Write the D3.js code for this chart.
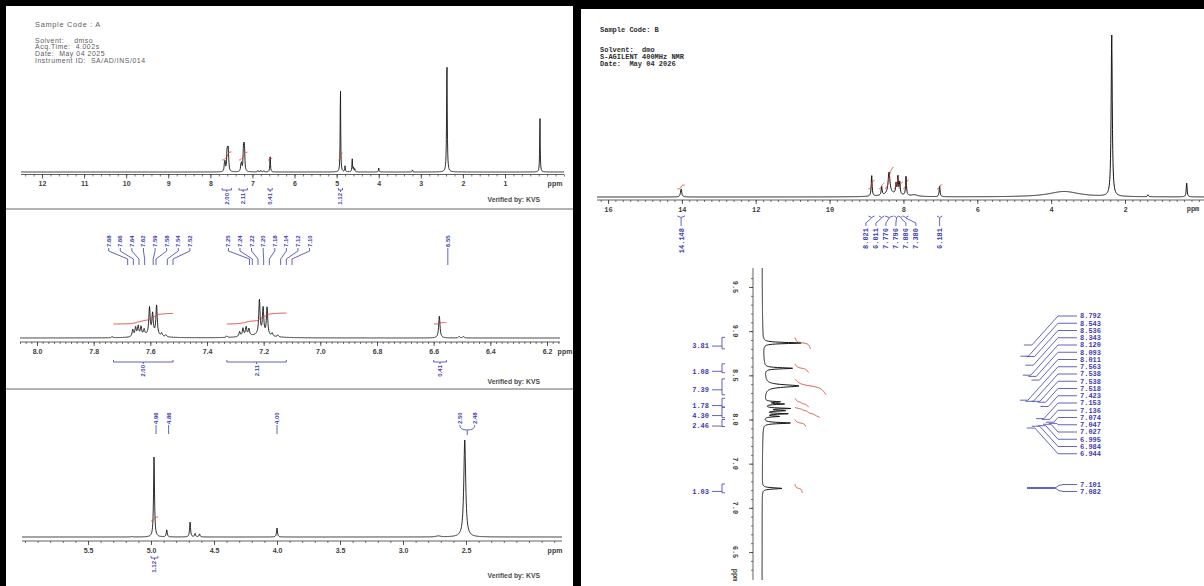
<!DOCTYPE html>
<html>
<head>
<meta charset="utf-8">
<title>NMR spectra A / B</title>
<script src="https://cdn.jsdelivr.net/npm/d3@7/dist/d3.min.js"></script>
<style>
  body { margin: 0; background: #000; }
  svg { display: block; }
  text { white-space: pre; }
</style>
</head>
<body>
<svg id="chart" width="1204" height="586"></svg>
<script>
// ---------------- data: sample A ----------------
const headerA = ["Solvent:    dmso", "Acq.Time:  4.002s", "Date:  May 04 2025", "Instrument ID:  SA/AD/INS/014"];
const aFullTicks = [12, 11, 10, 9, 8, 7, 6, 5, 4, 3, 2, 1];
const aZoom1Ticks = [8.0, 7.8, 7.6, 7.4, 7.2, 7.0, 6.8, 6.6, 6.4, 6.2];
const aZoom2Ticks = [5.5, 5.0, 4.5, 4.0, 3.5, 3.0, 2.5];

// peaks: [ppm, height, half width (optional)]
const aFullPeaks = [
  [7.665, 7], [7.65, 8], [7.605, 17], [7.59, 15], [7.575, 18], [7.56, 3],
  [7.275, 6], [7.258, 7], [7.215, 20], [7.200, 17], [7.188, 16],
  [6.87, 1.5], [6.80, 1.5], [6.73, 1.2],
  [6.58, 17, 0.008],
  [4.91, 86, 0.007], [4.80, 6, 0.008], [4.63, 13, 0.008], [4.60, 4, 0.008], [4.57, 3, 0.008],
  [4.00, 4, 0.008], [3.20, 2, 0.008],
  [2.38, 110, 0.009],
  [0.17, 56, 0.007]
];
const aZoom1Peaks = [
  [7.735, 1.2], [7.662, 7], [7.652, 9], [7.643, 10], [7.633, 9], [7.622, 6],
  [7.603, 27], [7.592, 21], [7.578, 30], [7.560, 3], [7.545, 2], [7.60, 2.5, 0.04],
  [7.33, 1.5], [7.285, 5], [7.273, 8], [7.262, 9], [7.252, 7],
  [7.215, 35], [7.202, 27], [7.188, 28], [7.170, 3], [7.150, 2], [7.22, 2.5, 0.05],
  [6.58, 22], [6.51, 1.5], [6.495, 1.5]
];
const aZoom2Peaks = [
  [5.15, 0.6], [4.976, 80], [4.875, 7], [4.69, 15], [4.65, 3.5], [4.615, 3],
  [4.00, 9], [2.72, 1, 0.02], [2.51, 97, 0.009]
];

const aFullInts = [
  { from: 7.72, to: 7.50, label: "2.00" }, { from: 7.32, to: 7.12, label: "2.11" },
  { from: 6.63, to: 6.53, label: "0.41" }, { from: 4.96, to: 4.86, label: "1.12" }
];
const aZoom1Ints = [
  { from: 7.73, to: 7.52, label: "2.00" }, { from: 7.33, to: 7.12, label: "2.11" },
  { from: 6.60, to: 6.555, label: "0.41" }
];
const aZoom2Ints = [{ from: 5.0, to: 4.945, label: "1.12" }];

const aZoom1Labels1 = [7.68, 7.66, 7.64, 7.62, 7.59, 7.58, 7.54, 7.52];
const aZoom1Labels2 = [7.25, 7.24, 7.22, 7.20, 7.18, 7.14, 7.12, 7.10];
const aZoom1Labels3 = [6.55];
const aZoom2Singles = [4.96, 4.86, 4.00];
const aZoom2Pair = [2.50, 2.48];

// ---------------- data: sample B ----------------
const headerB = ["Solvent:  dmo", "S-AGILENT 400MHz NMR", "Date:  May 04 2026"];
const bFullTicks = [16, 14, 12, 10, 8, 6, 4, 2];
const bExpTicks = [9.5, 9.0, 8.5, 8.0, 7.5, 7.0, 6.5];
const bExpTickLabels = ["9.5", "9.0", "8.5", "8.0", "7.0", "7.0", "6.5"];

const bFullPeaks = [
  [14.02, 8, 0.02], [8.86, 21], [8.59, 9], [8.39, 22, 0.03], [8.20, 10], [8.15, 18], [8.10, 12], [7.93, 19],
  [8.3, 3, 0.3], [7.7, 1.5, 0.1], [7.02, 11], [3.65, 5.5, 0.5], [2.36, 162, 0.018], [1.38, 2], [0.33, 14]
];
const bExpPeaks = [
  [8.866, 38, 0.008], [8.58, 28, 0.008], [8.38, 34, 0.016],
  [8.200, 15], [8.175, 19], [8.125, 25], [8.100, 20], [8.065, 23], [8.035, 15],
  [7.96, 27, 0.008], [7.22, 20, 0.008], [8.40, 3, 0.35]
];
const bFullInts = [
  { from: 14.12, to: 13.92, label: "14.148" }, { from: 8.95, to: 8.78, label: "8.021" },
  { from: 8.66, to: 8.52, label: "6.011" }, { from: 8.50, to: 8.27, label: "7.776" },
  { from: 8.25, to: 8.125, label: "7.796" }, { from: 8.125, to: 8.02, label: "7.886" },
  { from: 8.01, to: 7.86, label: "7.380" }, { from: 7.09, to: 6.95, label: "6.181" }
];
const bExpInts = [
  { from: 8.93, to: 8.80, label: "3.81" }, { from: 8.63, to: 8.53, label: "1.08" },
  { from: 8.46, to: 8.28, label: "7.39" }, { from: 8.24, to: 8.14, label: "1.78" },
  { from: 8.14, to: 8.02, label: "4.30" }, { from: 8.00, to: 7.92, label: "2.46" },
  { from: 7.27, to: 7.17, label: "1.03" }
];
const bPeakList = [8.792, 8.543, 8.536, 8.343, 8.120, 8.093, 8.011, 7.563, 7.538, 7.538,
  7.518, 7.423, 7.153, 7.136, 7.074, 7.047, 7.027, 6.995, 6.984, 6.944];
const bPeakPair = [7.101, 7.082];

// ---------------- setup ----------------
const svg = d3.select("#chart");
const BLUE = "#3b3bb2", RED = "#d2412f", INK = "#151515", AXIS = "#3a3a3a", GREY = "#5c5c5c";
const SANS = "Liberation Sans, Arial, sans-serif", MONO = "Liberation Mono, Courier New, monospace";

svg.append("rect").attr("width", 1204).attr("height", 586).attr("fill", "#000");
svg.append("rect").attr("x", 6).attr("y", 6).attr("width", 567).attr("height", 580).attr("fill", "#fff");
svg.append("rect").attr("x", 581).attr("y", 9).attr("width", 623).attr("height", 577).attr("fill", "#fff");
[209, 389].forEach(y => svg.append("line").attr("x1", 6).attr("x2", 573).attr("y1", y).attr("y2", y)
  .attr("stroke", "#9a9a9a").attr("stroke-width", 1.5));

// lorentzian sum of a peak table
function intensity(peaks, wDef, ppm) {
  let s = 0;
  for (const p of peaks) {
    const w = p[2] || wDef, d = ppm - p[0];
    s += p[1] * w * w / (d * d + w * w);
  }
  return s;
}
function spectrumPoints(peaks, wDef, scale, px0, px1) {
  const pts = [];
  for (let px = px0; px <= px1; px += 0.25) {
    const ppm = scale.invert(px);
    pts.push([ppm, intensity(peaks, wDef, ppm)]);
  }
  return pts;
}
// running integral of the spectrum between two shifts
function integralPoints(peaks, wDef, from, to, lo, k) {
  const n = 80, dp = (from - to) / n, pts = [];
  let acc = 0;
  for (let i = 0; i <= n; i++) {
    const ppm = from - i * dp;
    if (i > 0) acc += intensity(peaks, wDef, ppm) * dp;
    pts.push([ppm, lo + k * acc]);
  }
  return pts;
}
// push overlapping label centres apart
function spread(centres, gap) {
  const pos = centres.slice();
  for (let pass = 0; pass < 30; pass++) {
    let moved = false;
    for (let i = 1; i < pos.length; i++) {
      const d = pos[i] - pos[i - 1];
      if (d < gap) { const m = (gap - d) / 2; pos[i - 1] -= m; pos[i] += m; moved = true; }
    }
    if (!moved) break;
  }
  return pos;
}

function bottomAxis(g, x, yPos, span, minor, major, fmt, font, size) {
  g.append("line").attr("x1", span[0]).attr("x2", span[1]).attr("y1", yPos).attr("y2", yPos)
    .attr("stroke", AXIS).attr("stroke-width", 0.8);
  const inSpan = v => x(v) >= span[0] && x(v) <= span[1];
  g.append("g").attr("transform", `translate(0,${yPos})`)
    .call(d3.axisBottom(x).tickValues(minor.filter(inSpan)).tickSize(2).tickFormat("").tickSizeOuter(0))
    .call(a => { a.select(".domain").remove(); a.selectAll("line").attr("stroke", AXIS).attr("stroke-width", 0.7); });
  g.append("g").attr("transform", `translate(0,${yPos})`)
    .call(d3.axisBottom(x).tickValues(major).tickSize(4).tickPadding(3).tickFormat(fmt).tickSizeOuter(0))
    .call(a => {
      a.select(".domain").remove();
      a.selectAll("line").attr("stroke", AXIS).attr("stroke-width", 0.8);
      a.selectAll("text").attr("font-family", font).attr("font-size", size)
        .attr("font-weight", "bold").attr("fill", "#404040");
    });
}

function drawHSpectrum(g, peaks, wDef, x, y, span, width) {
  g.append("path").datum(spectrumPoints(peaks, wDef, x, span[0], span[1]))
    .attr("d", d3.line().x(d => x(d[0])).y(d => y(d[1])))
    .attr("fill", "none").attr("stroke", INK).attr("stroke-width", width).attr("stroke-linejoin", "round");
}
function drawHIntegrals(g, ints, peaks, wDef, x, y, lo, k) {
  ints.forEach(d => {
    g.append("path").datum(integralPoints(peaks, wDef, d.from, d.to, lo, k))
      .attr("d", d3.line().x(p => x(p[0])).y(p => y(p[1])))
      .attr("fill", "none").attr("stroke", RED).attr("stroke-width", 0.9);
  });
}
function aIntegralLabels(g, ints, x, yB) {
  ints.forEach(d => {
    const x0 = x(d.from), x1 = x(d.to), xm = (x0 + x1) / 2;
    g.append("path").attr("d", `M${x0},${yB - 2}V${yB}H${x1}V${yB - 2}M${xm},${yB}V${yB + 2}`)
      .attr("fill", "none").attr("stroke", BLUE).attr("stroke-width", 0.8);
    g.append("text").attr("transform", `translate(${xm + 2},${yB + 3}) rotate(-90)`)
      .attr("text-anchor", "end").attr("font-family", SANS).attr("font-size", 6)
      .attr("font-weight", "bold").attr("fill", BLUE).text(d.label);
  });
}
function verified(g, yPos) {
  g.append("text").attr("x", 540).attr("y", yPos).attr("text-anchor", "end")
    .attr("font-family", SANS).attr("font-size", 6.8).attr("font-weight", "bold").attr("fill", "#4a4a4a")
    .text("Verified by: KVS");
}
function ppmLabel(g, xPos, yPos, font, size) {
  g.append("text").attr("x", xPos).attr("y", yPos).attr("text-anchor", "middle")
    .attr("font-family", font).attr("font-size", size).attr("font-weight", "bold").attr("fill", "#404040").text("ppm");
}

// ---------------- A: full spectrum ----------------
const gA1 = svg.append("g");
gA1.append("text").attr("x", 35).attr("y", 26.5).attr("font-family", SANS).attr("font-size", 7.4)
  .attr("letter-spacing", 0.7).attr("fill", GREY).text("Sample Code : A");
gA1.selectAll(".hdr").data(headerA).join("text")
  .attr("x", 35).attr("y", (d, i) => 42.6 + i * 6.7)
  .attr("font-family", SANS).attr("font-size", 6.9).attr("letter-spacing", 0.55)
  .attr("fill", GREY).text(d => d);

const xA1 = d3.scaleLinear().domain([12, 1]).range([42, 505]);
const yA1 = d3.scaleLinear().domain([0, 100]).range([172, 72]);
drawHSpectrum(gA1, aFullPeaks, 0.01, xA1, yA1, [21, 564], 0.9);
drawHIntegrals(gA1, aFullInts, aFullPeaks, 0.01, xA1, yA1, 12, 4);
bottomAxis(gA1, xA1, 174.5, [21, 564], d3.range(-0.4, 12.6, 0.2), aFullTicks, d3.format("d"), SANS, 7);
ppmLabel(gA1, 555, 186, SANS, 7);
aIntegralLabels(gA1, aFullInts, xA1, 190);
verified(gA1, 202);

// ---------------- A: 8.0 - 6.2 ppm expansion ----------------
const gA2 = svg.append("g");
const xA2 = d3.scaleLinear().domain([8.0, 6.2]).range([37, 547]);
const yA2 = d3.scaleLinear().domain([0, 100]).range([338, 238]);
drawHSpectrum(gA2, aZoom1Peaks, 0.0028, xA2, yA2, [20, 560], 0.9);
drawHIntegrals(gA2, aZoom1Ints, aZoom1Peaks, 0.0028, xA2, yA2, 14, 8);
bottomAxis(gA2, xA2, 342, [20, 560], d3.range(6.14, 8.07, 0.02), aZoom1Ticks, d3.format(".1f"), SANS, 7);
ppmLabel(gA2, 565, 354, SANS, 7);
aIntegralLabels(gA2, aZoom1Ints, xA2, 362);
verified(gA2, 384);

function labelGroup(g, vals, x, gap, yText, yDrop) {
  const centre = x(d3.mean(vals));
  vals.forEach((v, i) => {
    const lx = centre + (i - (vals.length - 1) / 2) * gap, px = x(v);
    g.append("path").attr("d", `M${lx},${yText + 1}V${yText + 4}L${px},${yDrop - 6}V${yDrop}`)
      .attr("fill", "none").attr("stroke", BLUE).attr("stroke-width", 0.8);
    g.append("text").attr("transform", `translate(${lx + 2},${yText}) rotate(-90)`)
      .attr("font-family", SANS).attr("font-size", 6).attr("font-weight", "bold").attr("fill", BLUE)
      .text(v.toFixed(2));
  });
}
labelGroup(gA2, aZoom1Labels1, xA2, 11.6, 247, 265);
labelGroup(gA2, aZoom1Labels2, xA2, 11.6, 247, 265);
labelGroup(gA2, aZoom1Labels3, xA2, 11.6, 247, 265);

// ---------------- A: 5.8 - 2.2 ppm expansion ----------------
const gA3 = svg.append("g");
const xA3 = d3.scaleLinear().domain([5.5, 2.5]).range([88, 466]);
const yA3 = d3.scaleLinear().domain([0, 100]).range([537, 437]);
drawHSpectrum(gA3, aZoom2Peaks, 0.0045, xA3, yA3, [22, 562], 0.9);
drawHIntegrals(gA3, aZoom2Ints, aZoom2Peaks, 0.0045, xA3, yA3, 16, 4);
bottomAxis(gA3, xA3, 541, [22, 562], d3.range(1.8, 6.05, 0.1), aZoom2Ticks, d3.format(".1f"), SANS, 7);
ppmLabel(gA3, 555, 553, SANS, 7);
aIntegralLabels(gA3, aZoom2Ints, xA3, 558);
verified(gA3, 578);

aZoom2Singles.forEach(v => {
  const lx = xA3(v);
  gA3.append("path").attr("d", `M${lx},${425}V${434}`).attr("stroke", BLUE).attr("stroke-width", 0.8);
  gA3.append("text").attr("transform", `translate(${lx + 2},${424}) rotate(-90)`)
    .attr("font-family", SANS).attr("font-size", 6).attr("font-weight", "bold").attr("fill", BLUE).text(v.toFixed(2));
});
{
  const px = xA3(d3.mean(aZoom2Pair));
  aZoom2Pair.forEach((v, i) => {
    const lx = px + (i === 0 ? -7.5 : 7.5);
    gA3.append("path").attr("d", `M${lx},425Q${lx},430 ${px},430`).attr("fill", "none")
      .attr("stroke", BLUE).attr("stroke-width", 0.8);
    gA3.append("text").attr("transform", `translate(${lx + 2},${424}) rotate(-90)`)
      .attr("font-family", SANS).attr("font-size", 6).attr("font-weight", "bold").attr("fill", BLUE).text(v.toFixed(2));
  });
  gA3.append("path").attr("d", `M${px},430V435`).attr("stroke", BLUE).attr("stroke-width", 0.8);
}

// ---------------- B: full spectrum ----------------
const gB1 = svg.append("g");
gB1.append("text").attr("x", 600).attr("y", 31.5).attr("font-family", MONO).attr("font-size", 7)
  .attr("font-weight", "bold").attr("fill", "#2e2e2e").text("Sample Code: B");
gB1.selectAll(".hdr").data(headerB).join("text")
  .attr("x", 600).attr("y", (d, i) => 51.5 + i * 7)
  .attr("font-family", MONO).attr("font-size", 7).attr("font-weight", "bold").attr("fill", "#2e2e2e").text(d => d);

const xB1 = d3.scaleLinear().domain([16, 2]).range([608, 1125]);
const yB1 = d3.scaleLinear().domain([0, 200]).range([197, -3]);
drawHSpectrum(gB1, bFullPeaks, 0.014, xB1, yB1, [597, 1204], 1);
drawHIntegrals(gB1, bFullInts, bFullPeaks, 0.014, xB1, yB1, 8, 9);
bottomAxis(gB1, xB1, 200, [597, 1204], d3.range(0, 16.4, 0.2), bFullTicks, d3.format("d"), MONO, 7);
ppmLabel(gB1, 1193, 211, MONO, 7);

{
  const mids = bFullInts.map(d => xB1((d.from + d.to) / 2));
  const lxs = spread(mids, 10);
  bFullInts.forEach((d, i) => {
    const x0 = xB1(d.from), x1 = xB1(d.to), xm = mids[i], lx = lxs[i];
    gB1.append("path").attr("d", `M${x0},216Q${xm},219 ${x1},216M${xm},218L${lx},223V226`)
      .attr("fill", "none").attr("stroke", BLUE).attr("stroke-width", 0.8);
    gB1.append("text").attr("transform", `translate(${lx + 2.5},${228}) rotate(-90)`)
      .attr("text-anchor", "end").attr("font-family", MONO).attr("font-size", 7)
      .attr("font-weight", "bold").attr("fill", BLUE).text(d.label);
  });
}

// ---------------- B: rotated 9.5 - 6.3 ppm expansion ----------------
const gB2 = svg.append("g");
const yB2 = d3.scaleLinear().domain([9.5, 6.5]).range([287, 552]);
const xB2 = d3.scaleLinear().domain([0, 100]).range([762, 862]);
gB2.append("path").datum((() => {
  const pts = [];
  for (let py = 268; py <= 580; py += 0.25) {
    const ppm = yB2.invert(py);
    pts.push([ppm, intensity(bExpPeaks, 0.006, ppm)]);
  }
  return pts;
})()).attr("d", d3.line().x(d => xB2(d[1])).y(d => yB2(d[0])))
  .attr("fill", "none").attr("stroke", INK).attr("stroke-width", 1);

bExpInts.forEach(d => {
  gB2.append("path").datum(integralPoints(bExpPeaks, 0.006, d.from, d.to, 33, 15))
    .attr("d", d3.line().x(p => xB2(p[1])).y(p => yB2(p[0])))
    .attr("fill", "none").attr("stroke", RED).attr("stroke-width", 0.9);
});

gB2.append("line").attr("x1", 753).attr("x2", 753).attr("y1", 268).attr("y2", 580)
  .attr("stroke", AXIS).attr("stroke-width", 0.8);
gB2.append("g").attr("transform", "translate(753,0)")
  .call(d3.axisLeft(yB2).tickValues(d3.range(6.3, 9.7, 0.1)).tickSize(2).tickFormat("").tickSizeOuter(0))
  .call(a => { a.select(".domain").remove(); a.selectAll("line").attr("stroke", AXIS).attr("stroke-width", 0.7); });
gB2.append("g").attr("transform", "translate(753,0)")
  .call(d3.axisLeft(yB2).tickValues(bExpTicks).tickSize(4).tickFormat("").tickSizeOuter(0))
  .call(a => { a.select(".domain").remove(); a.selectAll("line").attr("stroke", AXIS).attr("stroke-width", 0.8); });
bExpTicks.forEach((v, i) => {
  gB2.append("text").attr("transform", `translate(735,${yB2(v)}) rotate(90)`)
    .attr("text-anchor", "middle").attr("dy", "0.35em").attr("font-family", MONO).attr("font-size", 7)
    .attr("font-weight", "bold").attr("fill", "#404040").text(bExpTickLabels[i]);
});
gB2.append("text").attr("transform", "translate(735,575) rotate(90)").attr("text-anchor", "middle")
  .attr("dy", "0.35em").attr("font-family", MONO).attr("font-size", 7).attr("font-weight", "bold")
  .attr("fill", "#404040").text("ppm");

{
  const mids = bExpInts.map(d => yB2((d.from + d.to) / 2) + 3);
  const lys = spread(mids, 10);
  bExpInts.forEach((d, i) => {
    const y0 = yB2(d.from), y1 = yB2(d.to), ly = lys[i];
    const yc = Math.max(y0, Math.min(y1, ly));
    gB2.append("path").attr("d", `M725,${y0}H722V${y1}H725M712,${ly}L718,${ly}L722,${yc}`)
      .attr("fill", "none").attr("stroke", BLUE).attr("stroke-width", 0.8);
    gB2.append("text").attr("x", 709).attr("y", ly + 2.3).attr("text-anchor", "end")
      .attr("font-family", MONO).attr("font-size", 7).attr("font-weight", "bold").attr("fill", BLUE).text(d.label);
  });
}

// ---------------- B: peak list ----------------
const gB3 = svg.append("g");
const anchorY = d3.scaleLinear().domain([d3.max(bPeakList), d3.min(bPeakList)]).range([345, 428]);
bPeakList.forEach((v, i) => {
  const ry = 316 + i * 7.25, ay = anchorY(v);
  const ax = 1058 - Math.abs(ry - ay) * 0.9;
  gB3.append("path").attr("d", `M1077,${ry}H1058L${ax},${ay}H${ax - 8}`)
    .attr("fill", "none").attr("stroke", BLUE).attr("stroke-width", 0.8);
  gB3.append("text").attr("x", 1080).attr("y", ry + 2.3).attr("font-family", MONO).attr("font-size", 7)
    .attr("font-weight", "bold").attr("fill", BLUE).text(v.toFixed(3));
});
gB3.append("path").attr("d", "M1027,488H1055").attr("stroke", BLUE).attr("stroke-width", 1.6);
bPeakPair.forEach((v, i) => {
  const ry = 484.5 + i * 7;
  gB3.append("path").attr("d", `M1055,488Q1059,${ry} 1063,${ry}H1077`)
    .attr("fill", "none").attr("stroke", BLUE).attr("stroke-width", 0.8);
  gB3.append("text").attr("x", 1080).attr("y", ry + 2.3).attr("font-family", MONO).attr("font-size", 7)
    .attr("font-weight", "bold").attr("fill", BLUE).text(v.toFixed(3));
});
</script>
</body>
</html>
